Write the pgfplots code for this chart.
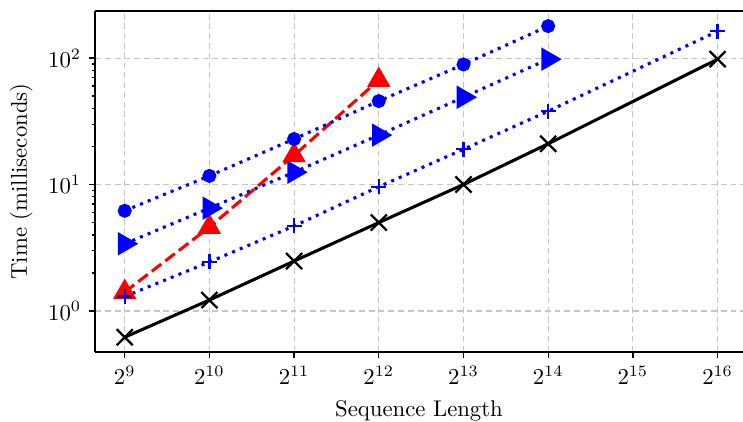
\documentclass[border=0pt]{standalone}
\usepackage{pgfplots}
\pgfplotsset{compat=1.18}

\begin{document}
\begin{tikzpicture}
  \begin{axis}[
    name=ax,
    scale only axis,
    width=285pt, height=150pt,
    xmode=log, ymode=log,
    log basis x=2,
    xmin=401.7, xmax=80700,
    ymin=0.474, ymax=236,
    xtick={512,1024,2048,4096,8192,16384,32768,65536},
    xticklabels={$2^{9}$,$2^{10}$,$2^{11}$,$2^{12}$,$2^{13}$,$2^{14}$,$2^{15}$,$2^{16}$},
    ytick={1,10,100},
    yticklabels={$10^{0}$,$10^{1}$,$10^{2}$},
    axis y line*=left,
    axis x line*=box,
    xtick pos=bottom,
    ytick pos=left,
    tick align=outside,
    major tick length=2.6pt,
    minor tick length=1.5pt,
    every tick/.style={black, line width=0.6pt},
    axis line style={line width=0.9pt},
    grid=major,
    major grid style={gray!45, dash pattern=on 2.6pt off 1.7pt, line width=0.5pt},
    xlabel={Sequence Length},
    ylabel={Time (milliseconds)},
    clip=false,
  ]
    % red dashed, triangle up
    \addplot[red, line width=1.35pt, dash pattern=on 5.3pt off 2.2pt,
      mark=triangle*, mark size=4.6pt, mark options={solid, fill=red}] coordinates {
      (512, 1.41) (1024, 4.6) (2048, 17) (4096, 67)
    };
    % blue dotted, circle
    \addplot[blue, line width=1.35pt, dash pattern=on 1.35pt off 2.3pt,
      mark=*, mark size=2.4pt, mark options={solid, fill=blue}] coordinates {
      (512, 6.2) (1024, 11.7) (2048, 22.9) (4096, 45.7) (8192, 89) (16384, 179)
    };
    % blue dotted, right triangle
    \addplot[blue, line width=1.35pt, dash pattern=on 1.35pt off 2.3pt,
      mark=triangle*, mark size=4.6pt, mark options={solid, fill=blue, rotate=-90}] coordinates {
      (512, 3.4) (1024, 6.5) (2048, 12.5) (4096, 24.6) (8192, 49) (16384, 98)
    };
    % blue dotted, plus
    \addplot[blue, line width=1.35pt, dash pattern=on 1.35pt off 2.3pt,
      mark=+, mark size=3.3pt, mark options={solid, line width=1pt}] coordinates {
      (512, 1.3) (1024, 2.44) (2048, 4.7) (4096, 9.6) (8192, 19) (16384, 38) (65536, 163)
    };
    % black solid, x
    \addplot[black, line width=1.35pt,
      mark=x, mark size=5pt, mark options={solid, line width=1pt}] coordinates {
      (512, 0.62) (1024, 1.22) (2048, 2.48) (4096, 5.0) (8192, 10) (16384, 21) (65536, 98)
    };
  \end{axis}
  \pgfresetboundingbox
  \path ([xshift=-41.8pt, yshift=-30.8pt]ax.south west) rectangle ([yshift=4.8pt]ax.north east);
\end{tikzpicture}
\end{document}
